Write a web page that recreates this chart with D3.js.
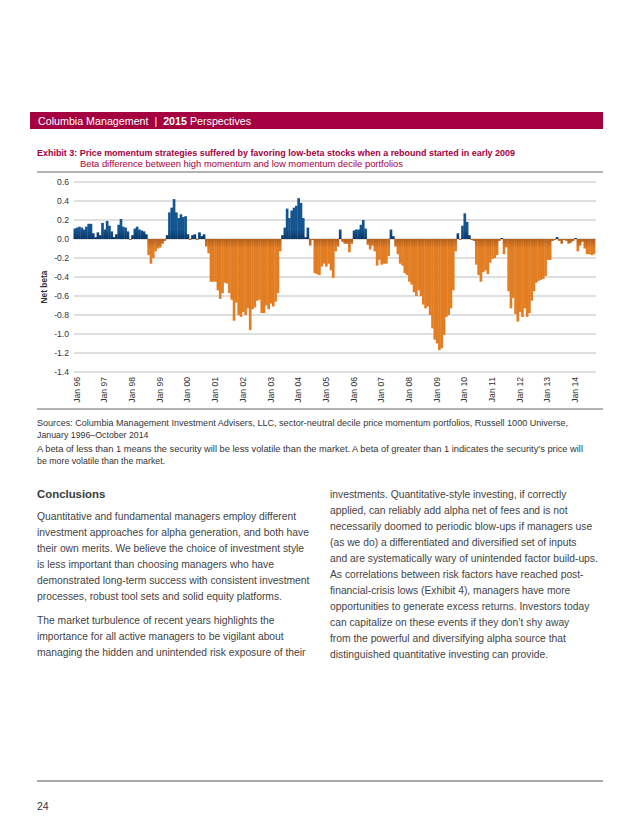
<!DOCTYPE html>
<html><head><meta charset="utf-8">
<script src="https://cdn.jsdelivr.net/npm/d3@7"></script>
<style>body{margin:0;background:#fff}svg{display:block}</style>
</head><body><svg id="c" width="640" height="828"></svg>
<script>
// ---------- DATA ----------
const startYear = 1996;
const netBeta = [
  /*1996*/ 0.11, 0.12, 0.13, 0.12, 0.10, 0.13, 0.16, 0.16, 0.06, 0.02, 0.07, 0.04,
  /*1997*/ 0.17, 0.10, 0.19, 0.14, 0.08, 0.02, 0.05, 0.15, 0.21, 0.13, 0.12, 0.08,
  /*1998*/ -0.01, 0.04, 0.11, 0.13, 0.10, 0.09, 0.08, 0.05, -0.17, -0.26, -0.20, -0.13,
  /*1999*/ -0.10, -0.09, -0.05, -0.02, 0.04, 0.28, 0.33, 0.42, 0.28, 0.22, 0.26, 0.23,
  /*2000*/ 0.24, 0.05, -0.01, 0.04, 0.05, -0.01, 0.07, 0.03, 0.05, -0.08, -0.15, -0.45,
  /*2001*/ -0.45, -0.45, -0.54, -0.63, -0.57, -0.46, -0.47, -0.57, -0.64, -0.86, -0.67, -0.80,
  /*2002*/ -0.82, -0.77, -0.80, -0.73, -0.96, -0.74, -0.72, -0.65, -0.64, -0.78, -0.78, -0.70,
  /*2003*/ -0.74, -0.68, -0.71, -0.66, -0.57, -0.13, 0.04, 0.12, 0.32, 0.22, 0.30, 0.33,
  /*2004*/ 0.35, 0.43, 0.38, 0.22, 0.02, 0.12, -0.07, -0.01, -0.36, -0.37, -0.38, -0.29,
  /*2005*/ -0.26, -0.29, -0.26, -0.33, -0.41, -0.13, -0.08, 0.10, -0.03, -0.05, -0.05, -0.14,
  /*2006*/ -0.05, 0.09, 0.10, 0.10, 0.15, 0.20, 0.11, -0.06, -0.11, -0.07, -0.13, -0.28,
  /*2007*/ -0.22, -0.27, -0.26, -0.26, -0.18, 0.10, 0.03, -0.08, -0.16, -0.26, -0.28, -0.36,
  /*2008*/ -0.38, -0.45, -0.48, -0.56, -0.60, -0.54, -0.60, -0.69, -0.73, -0.71, -0.80, -0.94,
  /*2009*/ -1.06, -1.10, -1.17, -1.15, -1.01, -0.82, -0.80, -0.73, -0.54, -0.13, 0.06, -0.01,
  /*2010*/ 0.14, 0.27, 0.18, 0.04, -0.01, -0.02, -0.27, -0.38, -0.45, -0.35, -0.33, -0.37,
  /*2011*/ -0.25, -0.21, -0.20, -0.17, -0.02, 0.01, -0.16, -0.09, -0.55, -0.73, -0.62, -0.79,
  /*2012*/ -0.87, -0.77, -0.82, -0.73, -0.82, -0.78, -0.65, -0.55, -0.46, -0.44, -0.43, -0.42,
  /*2013*/ -0.39, -0.22, -0.22, -0.02, -0.01, 0.02, -0.02, -0.05, -0.01, -0.02, -0.05, -0.04,
  /*2014*/ -0.02, 0.01, -0.13, -0.07, -0.03, -0.10, -0.16, -0.16, -0.17, -0.16
];
const yTickValues = [0.6, 0.4, 0.2, 0.0, -0.2, -0.4, -0.6, -0.8, -1.0, -1.2, -1.4];
const xTickLabels = ["Jan 96","Jan 97","Jan 98","Jan 99","Jan 00","Jan 01","Jan 02","Jan 03","Jan 04",
  "Jan 05","Jan 06","Jan 07","Jan 08","Jan 09","Jan 10","Jan 11","Jan 12","Jan 13","Jan 14"];

const headerParts = [["Columbia Management  |  ", 400], ["2015", 700], [" Perspectives", 400]];
const exhibitTitle = "Exhibit 3: Price momentum strategies suffered by favoring low-beta stocks when a rebound started in early 2009";
const exhibitSubtitle = "Beta difference between high momentum and low momentum decile portfolios";
const yAxisTitle = "Net beta";
const notes = [
  "Sources: Columbia Management Investment Advisers, LLC, sector-neutral decile price momentum portfolios, Russell 1000 Universe,",
  "January 1996\u2013October 2014",
  "A beta of less than 1 means the security will be less volatile than the market. A beta of greater than 1 indicates the security\u2019s price will",
  "be more volatile than the market."
];
const noteWidths = [531, null, 546, null];
const heading = "Conclusions";
const leftLines = [
  "Quantitative and fundamental managers employ different",
  "investment approaches for alpha generation, and both have",
  "their own merits. We believe the choice of investment style",
  "is less important than choosing managers who have",
  "demonstrated long-term success with consistent investment",
  "processes, robust tool sets and solid equity platforms.",
  null,
  "The market turbulence of recent years highlights the",
  "importance for all active managers to be vigilant about",
  "managing the hidden and unintended risk exposure of their"
];
const rightLines = [
  "investments. Quantitative-style investing, if correctly",
  "applied, can reliably add alpha net of fees and is not",
  "necessarily doomed to periodic blow-ups if managers use",
  "(as we do) a differentiated and diversified set of inputs",
  "and are systematically wary of unintended factor build-ups.",
  "As correlations between risk factors have reached post-",
  "financial-crisis lows (Exhibit 4), managers have more",
  "opportunities to generate excess returns. Investors today",
  "can capitalize on these events if they don\u2019t shy away",
  "from the powerful and diversifying alpha source that",
  "distinguished quantitative investing can provide."
];
const pageNumber = "24";

// ---------- DRAW ----------
const svg = d3.select("#c");
const FONT = "'Liberation Sans', Arial, sans-serif";
const CRIMSON = "#a50040";

const months = d3.range(netBeta.length).map(i => {
  const yr = startYear + Math.floor(i / 12), m = i % 12;
  return yr + "-" + String(m + 1).padStart(2, "0");
});
const data = months.map((k, i) => ({ key: k, v: netBeta[i] }));

// header bar
svg.append("rect").attr("x", 30).attr("y", 112).attr("width", 573).attr("height", 17).attr("fill", CRIMSON);
const ht = svg.append("text").attr("x", 38).attr("y", 124.5).attr("fill", "#fff")
  .attr("font-family", FONT).attr("font-size", 10.7).attr("xml:space", "preserve");
headerParts.forEach(p => ht.append("tspan").attr("font-weight", p[1]).text(p[0]));

// titles
svg.append("text").attr("x", 37).attr("y", 156).attr("fill", CRIMSON).attr("font-family", FONT)
  .attr("font-size", 8.8).attr("font-weight", 700)
  .attr("textLength", 478).attr("lengthAdjust", "spacingAndGlyphs").text(exhibitTitle);
svg.append("text").attr("x", 80).attr("y", 167).attr("fill", CRIMSON).attr("font-family", FONT)
  .attr("font-size", 8.8).attr("textLength", 323).attr("lengthAdjust", "spacingAndGlyphs").text(exhibitSubtitle);

svg.append("line").attr("x1", 37).attr("x2", 603).attr("y1", 172).attr("y2", 172)
  .attr("stroke", "#9a9a9a").attr("stroke-width", 1.4);
svg.append("line").attr("x1", 37).attr("x2", 603).attr("y1", 409).attr("y2", 409)
  .attr("stroke", "#9a9a9a").attr("stroke-width", 1.4);

// scales
const x = d3.scaleBand().domain(months).range([73.5, 595]).padding(0);
const y = d3.scaleLinear().domain([-1.4, 0.6]).range([372, 182]);
const y0 = y(0);

// grid + y labels
const gy = svg.append("g");
gy.selectAll("line").data(yTickValues).join("line")
  .attr("x1", 74).attr("x2", 596).attr("y1", d => y(d)).attr("y2", d => y(d))
  .attr("stroke", "#d4d4d4").attr("stroke-width", 1.3);
gy.selectAll("text").data(yTickValues).join("text")
  .attr("x", 69).attr("y", d => y(d)).attr("dy", "0.35em").attr("text-anchor", "end")
  .attr("font-family", FONT).attr("font-size", 8.6).attr("fill", "#333")
  .text(d => d3.format(".1f")(d).replace("\u2212", "-"));

// gradients
const defs = svg.append("defs");
const go = defs.append("linearGradient").attr("id", "gOr").attr("gradientUnits", "userSpaceOnUse")
  .attr("x1", 0).attr("x2", 0).attr("y1", y0).attr("y2", y0 + 9);
go.append("stop").attr("offset", 0).attr("stop-color", "#b35f1c");
go.append("stop").attr("offset", 1).attr("stop-color", "#e37d22");
const gb = defs.append("linearGradient").attr("id", "gBl").attr("gradientUnits", "userSpaceOnUse")
  .attr("x1", 0).attr("x2", 0).attr("y1", y0).attr("y2", y0 - 9);
gb.append("stop").attr("offset", 0).attr("stop-color", "#0a3766");
gb.append("stop").attr("offset", 1).attr("stop-color", "#14548f");

// bars
svg.append("g").selectAll("rect").data(data).join("rect")
  .attr("x", d => x(d.key))
  .attr("width", x.bandwidth() + 0.35)
  .attr("y", d => Math.min(y(d.v), y0))
  .attr("height", d => Math.abs(y(d.v) - y0))
  .attr("fill", d => d.v >= 0 ? "url(#gBl)" : "url(#gOr)");

// x labels
svg.append("g").selectAll("text").data(xTickLabels).join("text")
  .attr("transform", (d, i) => `translate(${x(months[i * 12]) + x.bandwidth() / 2 + 2},377) rotate(-90)`)
  .attr("dy", "0.35em").attr("text-anchor", "end")
  .attr("font-family", FONT).attr("font-size", 8.6).attr("fill", "#333").text(d => d);

// y title
svg.append("text").attr("transform", "translate(44,287) rotate(-90)").attr("dy", "0.35em")
  .attr("text-anchor", "middle").attr("font-family", FONT).attr("font-size", 8.4)
  .attr("font-weight", 700).attr("fill", "#333").text(yAxisTitle);

// notes
const nt = svg.append("g").selectAll("text").data(notes).join("text")
  .attr("x", 37).attr("y", (d, i) => [426, 438, 452, 464][i])
  .attr("font-family", FONT).attr("font-size", 8.8).attr("fill", "#333")
  .text(d => d);
nt.filter((d, i) => noteWidths[i] !== null)
  .attr("textLength", (d) => noteWidths[notes.indexOf(d)]).attr("lengthAdjust", "spacingAndGlyphs");

// Conclusions
svg.append("text").attr("x", 37).attr("y", 498).attr("font-family", FONT).attr("font-size", 11.4)
  .attr("font-weight", 700).attr("fill", "#3a3a3a").text(heading);

let yy = 520;
const lg = svg.append("g").attr("font-family", FONT).attr("font-size", 10.3).attr("fill", "#444");
leftLines.forEach(l => {
  if (l === null) { yy += 8; return; }
  lg.append("text").attr("x", 37).attr("y", yy).text(l);
  yy += 16;
});
rightLines.forEach((l, i) => {
  lg.append("text").attr("x", 330).attr("y", 498 + i * 16).text(l);
});

// footer
svg.append("line").attr("x1", 37).attr("x2", 603).attr("y1", 781).attr("y2", 781)
  .attr("stroke", "#555").attr("stroke-width", 1);
svg.append("text").attr("x", 37).attr("y", 810).attr("font-family", FONT).attr("font-size", 10.5)
  .attr("fill", "#333").text(pageNumber);
</script></body></html>
